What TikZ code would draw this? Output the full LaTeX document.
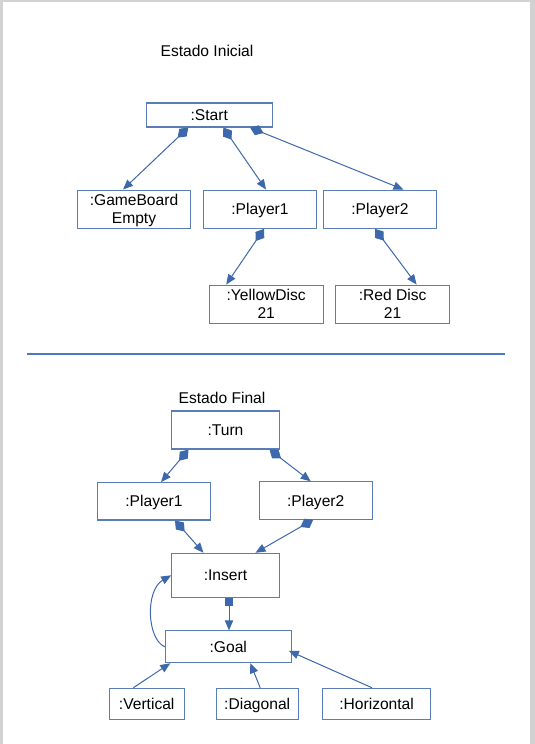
\documentclass[tikz,border=0pt]{standalone}
\usepackage{fontspec}
\setmainfont{Liberation Sans}
\usetikzlibrary{arrows.meta,calc}
\definecolor{boxc}{HTML}{5A7DB5}
\definecolor{linec}{HTML}{3D68AB}
\definecolor{sepc}{HTML}{4A7BBF}
\definecolor{pagec}{HTML}{D2D2D2}
\tikzset{
  obj/.style={draw=boxc, line width=0.8pt, rectangle, inner sep=0pt, align=center,
    font=\fontsize{11.7}{13.5}\selectfont, text=black, text depth=0pt},
  one/.style={obj, text height=8.4pt},
  title/.style={font=\fontsize{11.7}{13.5}\selectfont, inner sep=0pt},
  comp/.style={draw=linec, line width=0.75pt,
    {Diamond[length=11pt,width=8pt,fill=linec]}-{Triangle[length=7.5pt,width=6.2pt,fill=linec]}},
  compsq/.style={draw=linec, line width=0.75pt,
    {Square[length=5.8pt,width=5.8pt,fill=linec]}-{Triangle[length=7.5pt,width=6.2pt,fill=linec]}},
  assoc/.style={draw=linec, line width=0.75pt, -{Triangle[length=7.5pt,width=6.2pt,fill=linec]}},
}
\begin{document}
\begin{tikzpicture}[x=0.75pt,y=-0.75pt]
\useasboundingbox (0,0) rectangle (535,744);
% page edges
\fill[pagec] (0,0) rectangle (3,744);
\fill[pagec] (0,0) rectangle (535,2);
\fill[pagec] (530,0) rectangle (535,744);

% ---- Estado Inicial ----
\node[title] (t1) at (207,51) {Estado Inicial};
\node[one, minimum width=94.9pt, minimum height=18pt] (start) at (209.3,115) {:Start};
\node[obj, minimum width=85pt, minimum height=28.7pt] (gb) at (134,209.2) {:GameBoard\\Empty};
\node[one, minimum width=85pt, minimum height=28.7pt] (p1a) at (260,209.2) {:Player1};
\node[one, minimum width=85pt, minimum height=28.7pt] (p2a) at (380,209.2) {:Player2};
\node[obj, minimum width=85.7pt, minimum height=28.7pt] (yd) at (266.2,304.2) {:YellowDisc\\21};
\node[obj, minimum width=85pt, minimum height=28.7pt] (rd) at (392.6,304.2) {:Red Disc\\21};

\draw[comp] ($(start.south)+(-21,0)$) -- ($(gb.north)+(-11,0)$);
\draw[comp] ($(start.south)+(14,0)$) -- ($(p1a.north)+(6,0)$);
\draw[comp] ($(start.south)+(40.7,0)$) -- ($(p2a.north)+(23.5,0)$);
\draw[comp] ($(p1a.south)+(4,0)$) -- ($(yd.north)+(-40,0)$);
\draw[comp] ($(p2a.south)+(-5,0)$) -- ($(rd.north)+(24,0)$);

% separator
\draw[sepc, line width=1pt] (27,354) -- (505,354);

% ---- Estado Final ----
\node[title] (t2) at (222,398) {Estado Final};
\node[one, minimum width=80.7pt, minimum height=28.5pt] (turn) at (225.5,430) {:Turn};
\node[one, minimum width=85pt, minimum height=28pt] (p1b) at (154,501.3) {:Player1};
\node[one, minimum width=85pt, minimum height=28pt] (p2b) at (315.7,500.5) {:Player2};
\node[one, minimum width=80.7pt, minimum height=33pt] (ins) at (225.5,575.3) {:Insert};
\node[one, minimum width=94.5pt, minimum height=23.8pt] (goal) at (228.3,646.8) {:Goal};
\node[one, minimum width=56.5pt, minimum height=23.25pt] (vert) at (146.7,703.8) {:Vertical};
\node[one, minimum width=61.7pt, minimum height=23.25pt] (diag) at (257.2,703.8) {:Diagonal};
\node[one, minimum width=80.5pt, minimum height=23.25pt] (horz) at (376.6,703.8) {:Horizontal};

\draw[comp] ($(turn.south)+(-37,0)$) -- ($(p1b.north)+(7,0)$);
\draw[comp] ($(turn.south)+(44,0)$) -- ($(p2b.north)+(-5,0)$);
\draw[comp] ($(p1b.south)+(21,0)$) -- ($(ins.north)+(-22,0)$);
\draw[comp] ($(p2b.south)+(-2.5,0)$) -- ($(ins.north)+(30,0)$);
\draw[compsq] ($(ins.south)+(3.5,0)$) coordinate (sq) -- (sq |- goal.north);
\draw[assoc] (goal.west) .. controls ($(goal.west)+(-18,-8)$) and ($(ins.west)+(-26,15)$) .. (ins.west);
\draw[assoc] ($(vert.north)+(-13.4,0)$) -- ($(goal.south)+(-58,0)$);
\draw[assoc] ($(diag.north)+(3,0)$) -- ($(goal.south)+(22,0)$);
\draw[assoc] ($(horz.north)+(-4.6,0)$) -- ($(goal.east)+(-3,4)$);
\end{tikzpicture}
\end{document}
